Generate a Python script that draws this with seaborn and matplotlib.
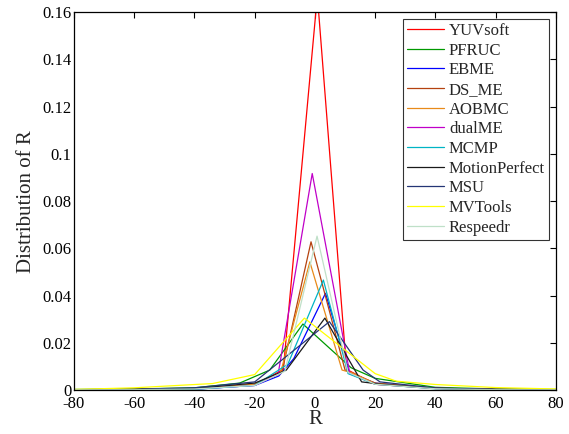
import pandas as pd
import seaborn as sns
import matplotlib
matplotlib.use("Agg")
import matplotlib.pyplot as plt

# ---- data ----
methods = ["YUVsoft", "PFRUC", "EBME", "DS_ME", "AOBMC", "dualME",
           "MCMP", "MotionPerfect", "MSU", "MVTools", "Respeedr"]
colors = ["#ff0000", "#009900", "#0000ff", "#b4420f", "#e88a1a", "#c000c8",
          "#00b4c4", "#1a1a1a", "#243575", "#ffff00", "#bfe0c8"]

yuvsoft_r = [-80, -60, -40, -20, -10.5, 0.8, 10.5, 20, 40, 60, 80]
yuvsoft_d = [0.0002, 0.0003, 0.0006, 0.0022, 0.0088, 0.167, 0.0088, 0.0025, 0.0007, 0.0003, 0.0002]

pfruc_r = [-80, -60, -40, -25, -15, -4, 12, 20, 40, 60, 80]
pfruc_d = [0.0003, 0.0005, 0.001, 0.003, 0.0085, 0.028, 0.0095, 0.005, 0.0012, 0.0005, 0.0003]

ebme_r = [-80, -60, -40, -20, -12, -7, 3.5, 11.5, 20, 40, 60, 80]
ebme_d = [0.0001, 0.0002, 0.0004, 0.002, 0.006, 0.0134, 0.041, 0.007, 0.003, 0.0008, 0.0003, 0.0001]

dsme_r = [-80, -60, -40, -20, -11, -1.3, 10, 20, 40, 60, 80]
dsme_d = [0.0002, 0.0003, 0.0006, 0.0025, 0.0075, 0.0628, 0.0085, 0.003, 0.0008, 0.0003, 0.0002]

aobmc_r = [-80, -60, -40, -20, -11.5, -1.7, 9, 12, 20, 40, 60, 80]
aobmc_d = [0.0002, 0.0003, 0.0006, 0.0025, 0.007, 0.0543, 0.0085, 0.0075, 0.0028, 0.0008, 0.0003, 0.0002]

dualme_r = [-80, -60, -40, -20, -12.2, -0.9, 11.6, 20, 40, 60, 80]
dualme_d = [0.0001, 0.0002, 0.0005, 0.002, 0.007, 0.0917, 0.007, 0.0025, 0.0007, 0.0002, 0.0001]

mcmp_r = [-80, -60, -40, -20, -9, 2.8, 11, 20, 40, 60, 80]
mcmp_d = [0.0001, 0.0002, 0.0004, 0.002, 0.011, 0.0466, 0.007, 0.0025, 0.0006, 0.0002, 0.0001]

mperf_r = [-80, -60, -40, -20, -9.5, 3.3, 15.5, 22, 40, 60, 80]
mperf_d = [0.0002, 0.0003, 0.0007, 0.003, 0.0085, 0.0305, 0.0035, 0.0025, 0.0008, 0.0003, 0.0002]

msu_r = [-80, -60, -40, -20, 4.8, 16, 21.6, 40, 60, 80]
msu_d = [0.0002, 0.0004, 0.001, 0.0035, 0.029, 0.0085, 0.0035, 0.0009, 0.0003, 0.0002]

mvtools_r = [-80, -60, -34, -20, -3.5, 20, 27, 40, 60, 80]
mvtools_d = [0.0003, 0.001, 0.0028, 0.0066, 0.0305, 0.007, 0.0038, 0.0024, 0.0011, 0.0005]

respeedr_r = [-80, -60, -40, -20, -10, 0.7, 11, 20, 40, 60, 80]
respeedr_d = [0.0001, 0.0002, 0.0005, 0.002, 0.008, 0.0652, 0.0075, 0.0025, 0.0006, 0.0002, 0.0001]

series = {
    "YUVsoft": (yuvsoft_r, yuvsoft_d),
    "PFRUC": (pfruc_r, pfruc_d),
    "EBME": (ebme_r, ebme_d),
    "DS_ME": (dsme_r, dsme_d),
    "AOBMC": (aobmc_r, aobmc_d),
    "dualME": (dualme_r, dualme_d),
    "MCMP": (mcmp_r, mcmp_d),
    "MotionPerfect": (mperf_r, mperf_d),
    "MSU": (msu_r, msu_d),
    "MVTools": (mvtools_r, mvtools_d),
    "Respeedr": (respeedr_r, respeedr_d),
}

frames = []
for name in methods:
    r, d = series[name]
    frames.append(pd.DataFrame({"R": r, "dist": d, "method": name}))
df = pd.concat(frames, ignore_index=True)

sns.set_style("white")
plt.rcParams["font.family"] = ["Liberation Serif", "DejaVu Serif"]
plt.rcParams["axes.unicode_minus"] = False

fig = plt.figure(figsize=(5.69, 4.34), dpi=100)
ax = fig.add_axes([0.130, 0.101, 0.847, 0.871])

sns.lineplot(data=df, x="R", y="dist", hue="method", hue_order=methods,
             palette=dict(zip(methods, colors)), estimator=None, sort=False,
             linewidth=0.9, ax=ax)

ax.set_xlim(-80, 80)
ax.set_ylim(0, 0.16)
ax.set_xticks(range(-80, 81, 20))
ax.set_yticks([0, 0.02, 0.04, 0.06, 0.08, 0.1, 0.12, 0.14, 0.16])
ax.set_yticklabels(["0", "0.02", "0.04", "0.06", "0.08", "0.1", "0.12", "0.14", "0.16"])
ax.tick_params(direction="in", top=True, right=True, length=4, width=0.8,
               labelsize=12, pad=2, colors="black")
ax.tick_params(axis="x", pad=4)
for s in ax.spines.values():
    s.set_color("black")
    s.set_linewidth(0.9)
ax.set_xlabel("R", fontsize=15, labelpad=-1)
ax.set_ylabel("Distribution of R", fontsize=15, labelpad=4)

sns.move_legend(ax, "upper right", title=None, frameon=True, fancybox=False,
                edgecolor="black", fontsize=12, handlelength=2.2,
                borderaxespad=0.4, labelspacing=0.22, handletextpad=0.3,
                borderpad=0.25)
ax.get_legend().get_frame().set_linewidth(0.8)

fig.savefig("out.png", dpi=100)
